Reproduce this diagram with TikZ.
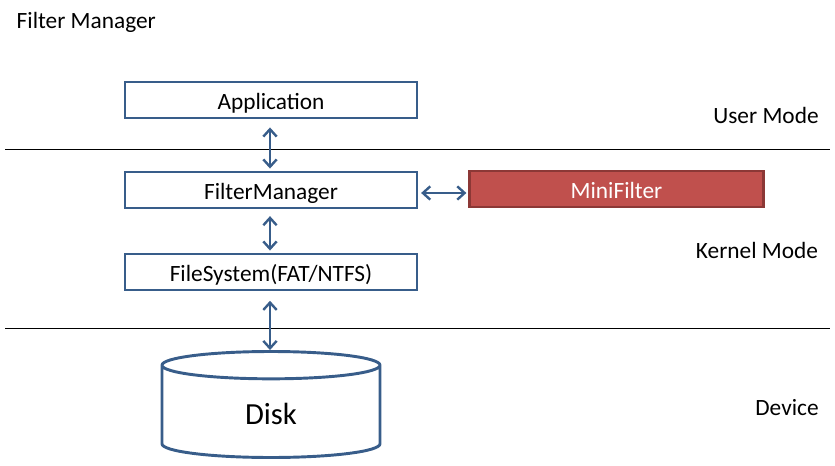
\documentclass[tikz,border=0pt]{standalone}
\usepackage{fontspec}
\setmainfont{Carlito}
\usetikzlibrary{arrows.meta,positioning,shapes.geometric}
\definecolor{boxblue}{HTML}{385D8A}
\definecolor{minired}{HTML}{C0504D}
\definecolor{miniedge}{HTML}{8C3836}
\tikzset{
  >={Straight Barb[length=5.5pt,width=10pt,line width=1.8pt]},
  line/.style      = {<->, draw=boxblue, line width=2pt},
  layerbox/.style  = {rectangle, draw=boxblue, line width=2.2pt, fill=white, minimum width=219pt, minimum height=27pt, inner sep=0pt, text height=16pt, text depth=1.5pt, font=\fontsize{17.5}{20}\selectfont},
  filterbox/.style = {rectangle, draw=miniedge, line width=2.2pt, fill=minired, text=white, minimum width=221pt, minimum height=27pt, inner sep=0pt, text height=16pt, text depth=1.5pt, font=\fontsize{17.5}{20}\selectfont},
  modelabel/.style = {font=\fontsize{17.5}{20}\selectfont},
  sepline/.style   = {draw=black, line width=0.75pt}
}
\begin{document}
\begin{tikzpicture}[x=0.75pt, y=-0.75pt]
\useasboundingbox (0,0) rectangle (835,466);

% Title
\node[modelabel, anchor=west] (title) at (12,22) {Filter Manager};

% User mode
\node[layerbox] (app) at (271,100) {Application};
\node[modelabel] (user) at (766,115) {User Mode};

\draw[sepline] (5,150) -- (830,150);

% Kernel mode
\node[layerbox] (fm) at (271,190) {FilterManager};
\node[filterbox] (mini) at (616.5,189) {MiniFilter};
\node[layerbox] (fs) at (271,272) {FileSystem(FAT/NTFS)};
\node[modelabel] (kernel) at (757,250) {Kernel Mode};

\draw[sepline] (5,329) -- (830,329);

% Device
\node[cylinder, shape border rotate=90, draw=boxblue, line width=2.2pt, aspect=0.45,
      minimum width=163.5pt, minimum height=79.5pt, font=\fontsize{23}{28}\selectfont] (disk) at (271,414) {Disk};
\node[modelabel] (device) at (787,408) {Device};

% Connections
\draw[line, shorten <=6pt, shorten >=1.5pt] (app.south -| 270,0) -- (fm.north -| 270,0);
\draw[line, shorten <=5pt, shorten >=1.5pt] (fm.south -| 270,0) -- (fs.north -| 270,0);
\draw[line, shorten <=7pt] (fs.south -| 270,0) -- (disk.north -| 270,0);
\draw[line, shorten <=2pt, shorten >=1pt] (fm.east |- 0,193) -- (mini.west |- 0,193);

\end{tikzpicture}
\end{document}
